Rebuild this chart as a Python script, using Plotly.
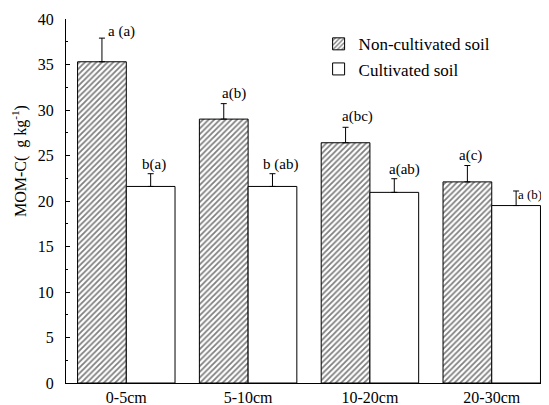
import plotly.graph_objects as go

categories = ["0-5cm", "5-10cm", "10-20cm", "20-30cm"]
noncult = [35.3, 29.0, 26.4, 22.1]
noncult_err = [2.6, 1.7, 1.7, 1.8]
cult = [21.6, 21.6, 20.95, 19.5]
cult_err = [1.4, 1.4, 1.5, 1.6]
noncult_labels = ["a (a)", "a(b)", "a(bc)", "a(c)"]
cult_labels = ["b(a)", "b (ab)", "a(ab)", "a (b)"]

FONT = "'Liberation Serif', 'Times New Roman', Times, serif"
xi = list(range(len(categories)))

fig = go.Figure()
fig.add_trace(go.Bar(
    x=xi, y=noncult, name="Non-cultivated soil", offsetgroup="nc",
    marker=dict(color="white", line=dict(color="black", width=1),
                pattern=dict(shape="/", size=4, solidity=0.45, fgcolor="black", bgcolor="white")),
    error_y=dict(type="data", symmetric=False, array=noncult_err,
                 arrayminus=[0] * 4, color="black", thickness=1, width=3),
))
fig.add_trace(go.Bar(
    x=xi, y=cult, name="Cultivated soil", offsetgroup="c",
    marker=dict(color="white", line=dict(color="black", width=1)),
    error_y=dict(type="data", symmetric=False, array=cult_err,
                 arrayminus=[0] * 4, color="black", thickness=1, width=3),
))

nc_shift = [20, 10, 12, 3]
c_shift = [3, 8, 10, 1]
c_anchor = ["center", "center", "center", "left"]
c_size = [15, 15, 15, 13]
nc_y = [-4, 0, 0, 0]
c_y = [0, 0, 0, -12]
for i in xi:
    fig.add_annotation(x=i - 0.2, y=noncult[i] + noncult_err[i], text=noncult_labels[i],
                       showarrow=False, yanchor="bottom", xshift=nc_shift[i], yshift=nc_y[i],
                       font=dict(family=FONT, size=15, color="black"))
    fig.add_annotation(x=i + 0.2, y=cult[i] + cult_err[i], text=cult_labels[i],
                       showarrow=False, yanchor="bottom", xanchor=c_anchor[i],
                       xshift=c_shift[i], yshift=c_y[i], borderpad=0,
                       font=dict(family=FONT, size=c_size[i], color="black"))

fig.add_annotation(xref="paper", yref="paper", x=-0.095, y=0.61,
                   text="MOM-C(  g kg<sup>-1</sup>)", textangle=-90, showarrow=False,
                   xanchor="center", yanchor="middle",
                   font=dict(family=FONT, size=16, color="black"))

# page body has an 8px default margin, so the figure is sized 8px smaller
fig.update_layout(
    width=541, height=397,
    margin=dict(l=58, r=0, t=11, b=22),
    paper_bgcolor="white", plot_bgcolor="white",
    bargap=0.2, bargroupgap=0,
    barmode="group",
    showlegend=True,
    legend=dict(x=0.523, y=0.98, xanchor="left", yanchor="top",
                font=dict(family=FONT, size=17, color="black"),
                bgcolor="rgba(0,0,0,0)", tracegroupgap=0),
    font=dict(family=FONT, size=16, color="black"),
)
fig.update_xaxes(
    range=[-0.495, 3.47], tickmode="array", tickvals=xi, ticktext=categories,
    showline=True, linecolor="black", linewidth=1, ticks="", showgrid=False,
    zeroline=False, tickfont=dict(family=FONT, size=16, color="black"),
)
fig.update_yaxes(
    range=[0, 40], tickmode="linear", tick0=0, dtick=5,
    showline=True, linecolor="black", linewidth=1, ticks="inside", ticklen=4,
    tickcolor="black", showgrid=False, zeroline=False,
    minor=dict(ticks="inside", ticklen=2, dtick=2.5, tickcolor="black"),
    tickfont=dict(family=FONT, size=16, color="black"), ticklabelstandoff=8,
)
fig.write_html("out.html")
